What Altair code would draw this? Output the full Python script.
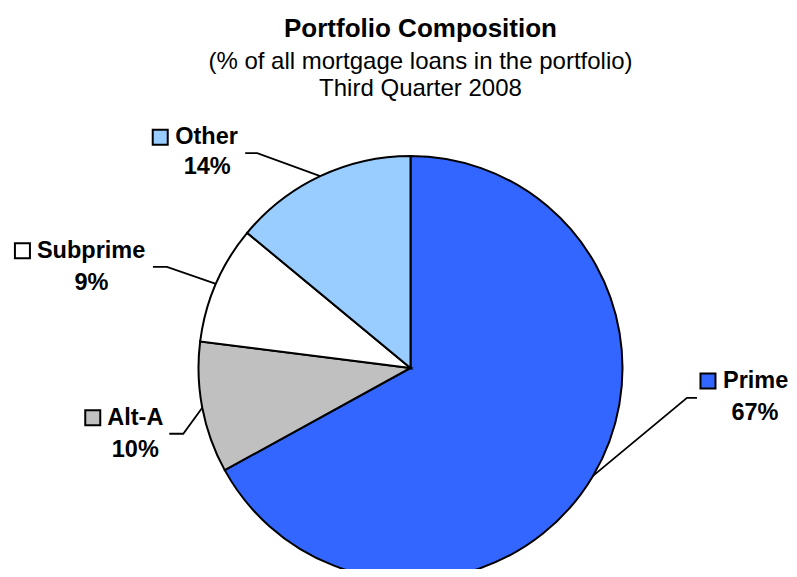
import altair as alt
import numpy as np
import pandas as pd

# ---- data ----
categories = ["Prime", "Alt-A", "Subprime", "Other"]
shares = [67, 10, 9, 14]
share_labels = ["67%", "10%", "9%", "14%"]
colors = ["#3366FF", "#C0C0C0", "#FFFFFF", "#99CCFF"]

# ---- layout ----
W, H = 781, 441
PAD_TOP = 120
CX, CY = 402.5, 240  # pie centre in plot coordinates
R = 212
elbow_dx = [94, -19, -49, -63]
elbow_dy = [-78, 26, -17, -23]
tail_dx = [10, -14, -14, -12]
sq_dx = [11, -76.5, -130.5, -85]
name_dx = [26, -62, -116, -70]
pct_dx = [58, -34, -61.5, -38]
label_dy = [-17, -16, -16, -16]
pct_dy = [15, 16, 16, 14]

FONT = "Liberation Sans"

sh = np.array(shares, dtype=float)
cum = np.cumsum(sh)
mid = (cum - sh / 2) / sh.sum() * 2 * np.pi
ex = CX + R * np.sin(mid)
ey = CY - R * np.cos(mid)
bx = ex + np.array(elbow_dx)
by = ey + np.array(elbow_dy)
tx = bx + np.array(tail_dx)
ty = by

pie_df = pd.DataFrame({"category": categories, "share": shares, "idx": range(len(categories))})

line_rows = []
for i, c in enumerate(categories):
    line_rows.append({"category": c, "pt": 0, "x": ex[i], "y": ey[i]})
    line_rows.append({"category": c, "pt": 1, "x": bx[i], "y": by[i]})
    line_rows.append({"category": c, "pt": 2, "x": tx[i], "y": ty[i]})
line_df = pd.DataFrame(line_rows)

lab_df = pd.DataFrame({
    "category": categories,
    "pct": share_labels,
    "sqx": tx + np.array(sq_dx),
    "namex": tx + np.array(name_dx),
    "liney": ty + np.array(label_dy),
    "pctx": tx + np.array(pct_dx),
    "pcty": ty + np.array(pct_dy),
})

fill_scale = alt.Scale(domain=categories, range=colors)

pie = alt.Chart(pie_df).mark_arc(radius=R, stroke="black", strokeWidth=2).encode(
    theta=alt.Theta("share:Q", stack=True),
    fill=alt.Fill("category:N", scale=fill_scale, legend=None),
    order=alt.Order("idx:Q"),
    x=alt.value(CX),
    y=alt.value(CY),
)

lines = alt.Chart(line_df).mark_line(color="black", strokeWidth=1.8).encode(
    x=alt.X("x:Q", scale=None, axis=None),
    y=alt.Y("y:Q", scale=None, axis=None),
    detail="category:N",
    order="pt:Q",
)

squares = alt.Chart(lab_df).mark_square(size=225, stroke="black", strokeWidth=2, opacity=1).encode(
    x=alt.X("sqx:Q", scale=None, axis=None),
    y=alt.Y("liney:Q", scale=None, axis=None),
    fill=alt.Fill("category:N", scale=fill_scale, legend=None),
)

names = alt.Chart(lab_df).mark_text(
    align="left", baseline="middle", font=FONT, fontSize=23.5, fontWeight="bold", color="black"
).encode(
    x=alt.X("namex:Q", scale=None, axis=None),
    y=alt.Y("liney:Q", scale=None, axis=None),
    text="category:N",
)

pcts = alt.Chart(lab_df).mark_text(
    align="center", baseline="middle", font=FONT, fontSize=23.5, fontWeight="bold", color="black"
).encode(
    x=alt.X("pctx:Q", scale=None, axis=None),
    y=alt.Y("pcty:Q", scale=None, axis=None),
    text="pct:N",
)

chart = alt.layer(pie, lines, squares, names, pcts).properties(
    width=W,
    height=H,
    autosize=alt.AutoSizeParams(type="none"),
    padding={"left": 0, "right": 0, "top": PAD_TOP, "bottom": 0},
    title=alt.TitleParams(
        text="Portfolio Composition",
        subtitle=["(% of all mortgage loans in the portfolio)", "Third Quarter 2008"],
        font=FONT,
        fontSize=26,
        fontWeight="bold",
        color="black",
        subtitleFont=FONT,
        subtitleFontSize=24,
        subtitleFontWeight="normal",
        subtitleColor="black",
        subtitleLineHeight=27,
        subtitlePadding=8,
        anchor="middle",
        offset=24,
        dx=22,
    ),
).configure_view(stroke=None)

chart.save("out.html", embed_options={"renderer": "svg", "actions": False})
